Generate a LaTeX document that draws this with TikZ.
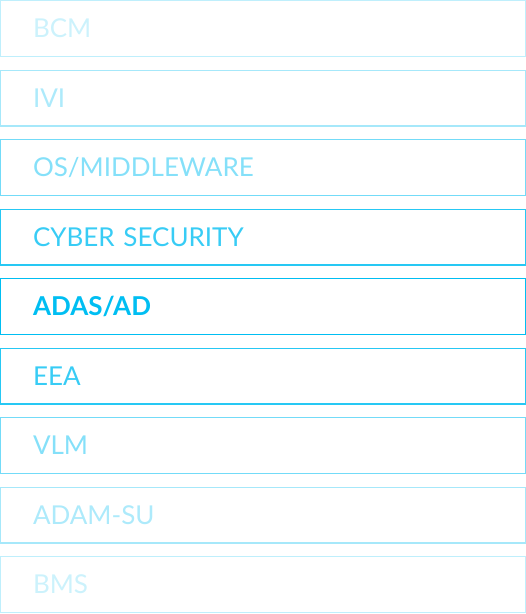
\documentclass[tikz,border=0pt]{standalone}
\usepackage{fontspec}
\setmainfont{Lato}
\usepackage{tikz}
\usetikzlibrary{positioning}
\definecolor{adascyan}{RGB}{0,190,242}
\tikzstyle{layer} = [rectangle, draw, line width=1.2pt, minimum width=524.8pt,
	minimum height=55.8pt, text width=460pt, inner xsep=32.5pt, align=left,
	text height=18.6pt, text depth=0pt, font=\fontsize{26}{30}\selectfont]
\tikzstyle{faint} = [layer, draw=adascyan!25, text=adascyan!20]
\tikzstyle{pale} = [layer, draw=adascyan!35, text=adascyan!32]
\tikzstyle{soft} = [layer, draw=adascyan!55, text=adascyan!48]
\tikzstyle{near} = [layer, draw=adascyan!85, text=adascyan!78]
\tikzstyle{active} = [layer, draw=adascyan, text=adascyan, font=\fontsize{26}{30}\selectfont\bfseries]

\begin{document}
\begin{tikzpicture}[x=1pt, y=1pt, node distance = 69.5pt]
	\useasboundingbox (0,0) rectangle (526,-614);
	% Place nodes
	\node [faint] (bcm) at (263,-28.5) {BCM};
	\node [pale, below of=bcm] (ivi) {IVI};
	\node [soft, below of=ivi] (os) {OS/MIDDLEWARE};
	\node [near, below of=os] (cyber) {CYBER SECURITY};
	\node [active, below of=cyber] (adas) {ADAS/AD};
	\node [near, below of=adas] (eea) {EEA};
	\node [soft, below of=eea] (vlm) {VLM};
	\node [pale, below of=vlm] (adam) {ADAM-SU};
	\node [faint, below of=adam] (bms) {BMS};
\end{tikzpicture}
\end{document}
